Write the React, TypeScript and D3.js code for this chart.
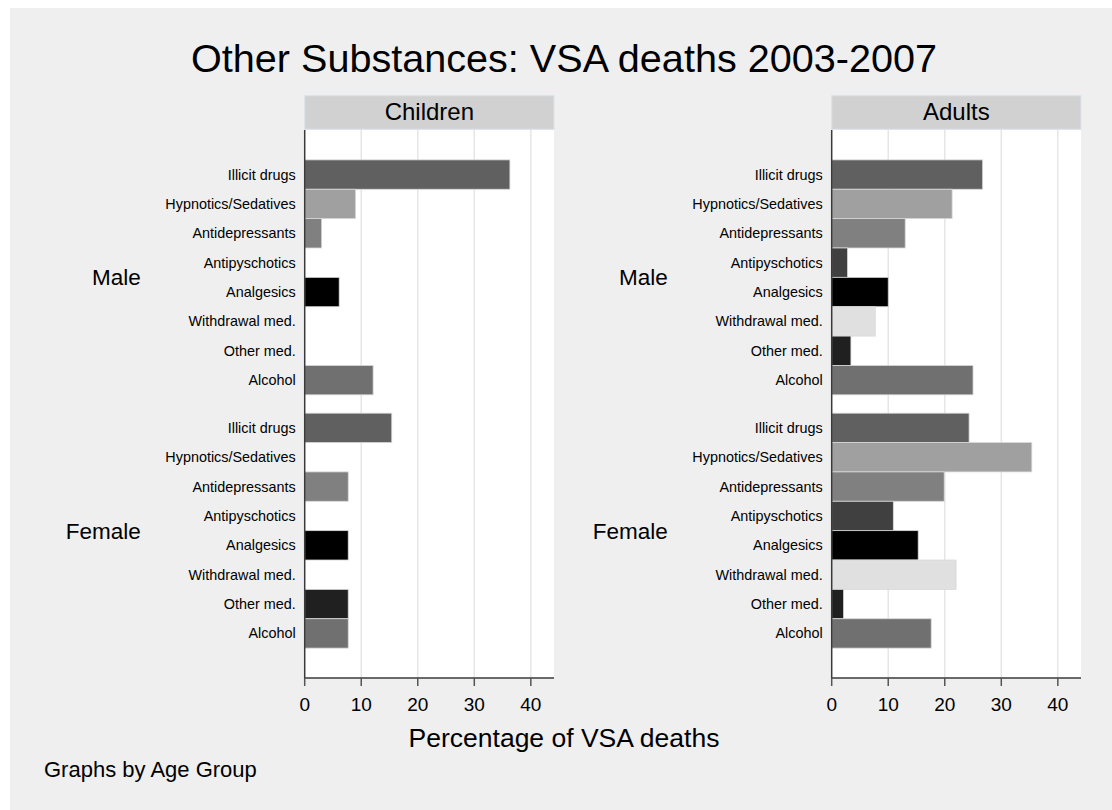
import React from "react";
import * as d3 from "d3";

const categories = [
  "Illicit drugs",
  "Hypnotics/Sedatives",
  "Antidepressants",
  "Antipyschotics",
  "Analgesics",
  "Withdrawal med.",
  "Other med.",
  "Alcohol",
];
const categoryColors = ["#606060", "#a0a0a0", "#808080", "#404040", "#000000", "#e0e0e0", "#202020", "#707070"];
const sexes = ["Male", "Female"];
const ageGroups = ["Children", "Adults"];

const childrenMale = [36.3, 9.0, 3.0, 0, 6.1, 0, 0, 12.1];
const childrenFemale = [15.4, 0, 7.7, 0, 7.7, 0, 7.7, 7.7];
const adultsMale = [26.7, 21.3, 13.0, 2.8, 10.0, 7.7, 3.4, 25.0];
const adultsFemale = [24.3, 35.4, 19.9, 10.9, 15.3, 22.0, 2.1, 17.6];

const xTicks = [0, 10, 20, 30, 40];

const title = "Other Substances: VSA deaths 2003-2007";
const xTitle = "Percentage of VSA deaths";
const note = "Graphs by Age Group";

const W = 1112;
const H = 810;
const FONT = "'Liberation Sans', Arial, Helvetica, sans-serif";

const panelLefts = [304.7, 831.7];
const panelWidth = 249.3;
const plotTop = 130;
const plotBottom = 678;

const dataByPanel = [
  [childrenMale, childrenFemale],
  [adultsMale, adultsFemale],
];

function Panel({ pi }: { pi: number }) {
  const x0 = panelLefts[pi];
  const x = d3.scaleLinear().domain([0, 44.1]).range([x0, x0 + panelWidth]);
  const yGroup = d3
    .scaleBand<string>()
    .domain(sexes)
    .range([plotTop, plotBottom])
    .paddingInner(0.0725)
    .paddingOuter(0.118);
  const yCat = d3.scaleBand<string>().domain(categories).range([0, yGroup.bandwidth()]).padding(0);
  const groupLabelRight = x0 - 164;

  return (
    <g>
      {/* strip header */}
      <rect x={x0} y={95.7} width={panelWidth} height={33.6} fill="#d1d1d1" stroke="#dde3ea" strokeWidth={1} />
      <text x={x0 + panelWidth / 2} y={120} textAnchor="middle" fontSize={24} fontFamily={FONT} fill="#000">
        {ageGroups[pi]}
      </text>
      {/* plot area */}
      <rect x={x0} y={plotTop} width={panelWidth} height={plotBottom - plotTop} fill="#ffffff" />
      {xTicks.slice(1).map((t) => (
        <line key={t} x1={x(t)} x2={x(t)} y1={plotTop} y2={plotBottom} stroke="#e6e6e6" strokeWidth={1.5} />
      ))}
      {sexes.map((s, si) => {
        const g0 = yGroup(s)!;
        const vals = dataByPanel[pi][si];
        return (
          <g key={s}>
            {categories.map((c, ci) => {
              const y = g0 + yCat(c)!;
              const h = yCat.bandwidth();
              const v = vals[ci];
              return (
                <g key={c}>
                  {v > 0 && (
                    <rect
                      x={x(0)}
                      y={y}
                      width={x(v) - x(0)}
                      height={h}
                      fill={categoryColors[ci]}
                      stroke="#d8d8d8"
                      strokeWidth={0.8}
                    />
                  )}
                  <text
                    x={x0 - 9}
                    y={y + h / 2 + 5}
                    textAnchor="end"
                    fontSize={14.4}
                    fontFamily={FONT}
                    fill="#000"
                  >
                    {c}
                  </text>
                </g>
              );
            })}
            <text
              x={groupLabelRight}
              y={g0 + yGroup.bandwidth() / 2 + 8}
              textAnchor="end"
              fontSize={22.5}
              fontFamily={FONT}
              fill="#000"
            >
              {s}
            </text>
          </g>
        );
      })}
      {/* axes */}
      <line x1={x0} x2={x0} y1={plotTop} y2={plotBottom} stroke="#3a3a3a" strokeWidth={1.5} />
      <line x1={x0} x2={x0 + panelWidth} y1={plotBottom} y2={plotBottom} stroke="#3a3a3a" strokeWidth={1.5} />
      {xTicks.map((t) => (
        <g key={t}>
          <line x1={x(t)} x2={x(t)} y1={plotBottom} y2={plotBottom + 8} stroke="#555" strokeWidth={1.5} />
          <text x={x(t)} y={711} textAnchor="middle" fontSize={19} fontFamily={FONT} fill="#000">
            {t}
          </text>
        </g>
      ))}
    </g>
  );
}

export default function App() {
  return (
    <svg
      width={W}
      height={H}
      style={{ position: "absolute", left: 0, top: 0, background: "#ffffff" }}
    >
      <rect x={10} y={8} width={W - 10} height={H - 8} fill="#efefef" />
      <text x={564} y={72} textAnchor="middle" fontSize={39.6} fontFamily={FONT} fill="#000">
        {title}
      </text>
      {ageGroups.map((_, i) => (
        <Panel key={i} pi={i} />
      ))}
      <text x={564} y={747} textAnchor="middle" fontSize={26.5} fontFamily={FONT} fill="#000">
        {xTitle}
      </text>
      <text x={44} y={777} fontSize={22} fontFamily={FONT} fill="#000">
        {note}
      </text>
    </svg>
  );
}
